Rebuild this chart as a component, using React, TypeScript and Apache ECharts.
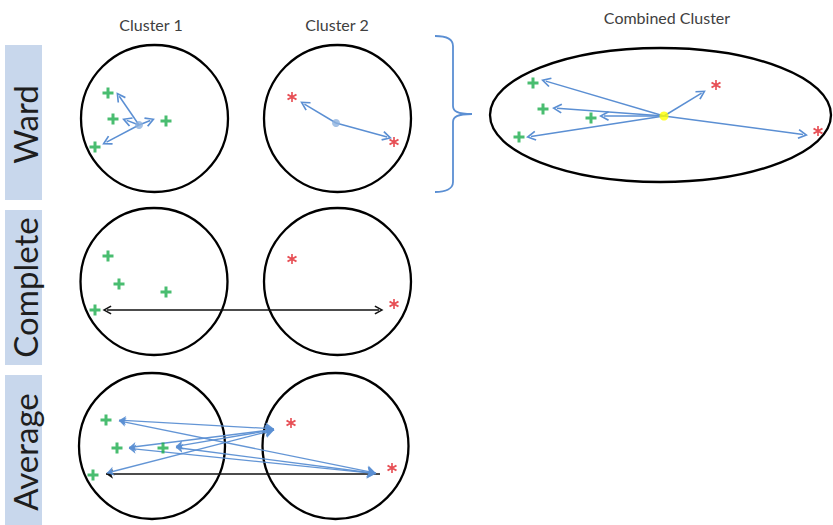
import React, { useEffect, useRef } from 'react';
import * as echarts from 'echarts';

// ---------- texts ----------
const columnTitles = ['Cluster 1', 'Cluster 2', 'Combined Cluster'];
const rowLabels = ['Ward', 'Complete', 'Average'];

// ---------- cluster outlines: [cx, cy, width, height] ----------
const clusterOutlines = [
  [154.5, 118.5, 147, 147],
  [337.5, 118.5, 147, 147],
  [154, 281.5, 147, 147],
  [337.5, 281.5, 147, 147],
  [152, 446, 146, 146],
  [335.5, 446, 146, 146],
  [660.5, 115, 341, 134],
];

// ---------- Ward ----------
const wardGreen = [[108, 93], [113, 119], [166, 121], [95, 147]];
const wardRed = [[292, 97], [394, 142]];
const wardCentroids = [[139, 125], [336, 123]];
const wardGreenTips = [[117, 93], [123, 119], [154, 119], [103, 144]];
const wardRedTips = [[301, 102], [391, 138]];

// ---------- Combined ----------
const combinedGreen = [[533, 83], [543, 109], [591, 118], [519, 137]];
const combinedRed = [[716, 85], [818, 131]];
const combinedCentroid = [664, 116];
const combinedTips = [[542, 80], [553, 108], [600, 116], [527, 137], [705, 91], [807, 135]];

// ---------- Complete ----------
const completeGreen = [[108, 256], [119, 284], [166, 292], [95, 310]];
const completeRed = [[292, 259], [394, 304]];
const completeLink = [[103, 310], [383, 310]];

// ---------- Average ----------
const averageGreen = [[106, 420], [117, 448], [163, 448], [93, 475]];
const averageRed = [[291, 423], [392, 468]];
const averageGreenEnds = [[115, 420], [125, 448], [172, 447], [103, 474]];
const averageRedEnds = [[278, 429], [380, 474]];

// ---------- colours ----------
const GREEN = '#1cac4c';
const RED = '#e1232b';
const BLUE = '#5b8fd3';
const BOX = '#c8d7ec';

const PLUS = 'path://M4,0H7V4H11V7H7V11H4V7H0V4H4Z';
const STAR =
  'path://M4.2,0H5.8V10H4.2Z M0.17,3.37L1.17,1.63L9.83,6.63L8.83,8.37Z M1.17,8.37L0.17,6.63L8.83,1.63L9.83,3.37Z';
const CHEV = 'path://M5,0L10,9L8.6,9.9L5,3.3L1.4,9.9L0,9Z';

const braceD =
  'M0,0 C10,0 18,2 18,10 L18,70 C18,75 22,78 37,78 C22,78 18,81 18,86 L18,146 C18,153 10,156 0,156';
echarts.graphic.registerShape('brace', echarts.graphic.extendPath(braceD, {}));

function pull(from: number[], to: number[], d: number) {
  const dx = to[0] - from[0];
  const dy = to[1] - from[1];
  const len = Math.sqrt(dx * dx + dy * dy) || 1;
  return [to[0] - (dx / len) * d, to[1] - (dy / len) * d];
}

function singleArrows(from: number[], tips: number[][], d: number) {
  return tips.map((t) => ({ coords: [from, pull(from, t, d)] }));
}

export default function App() {
  const ref = useRef<HTMLDivElement>(null);

  useEffect(() => {
    if (!ref.current) return;
    const chart = echarts.init(ref.current, null, { renderer: 'svg' });

    const wardLinks = [
      ...singleArrows(wardCentroids[0], wardGreenTips, 4),
      ...singleArrows(wardCentroids[1], wardRedTips, 4),
    ];
    const combinedLinks = singleArrows(combinedCentroid, combinedTips, 4);

    const avgLinks: any[] = [];
    averageGreenEnds.forEach((g, i) => {
      averageRedEnds.forEach((r, j) => {
        if (i === 3 && j === 1) return;
        avgLinks.push({ coords: [pull(r, g, 4), pull(g, r, 4)] });
      });
    });

    const labelBoxes = [
      [45, 155],
      [210, 155],
      [375, 150],
    ];

    const graphic: any[] = [];
    rowLabels.forEach((lab, i) => {
      const [y, h] = labelBoxes[i];
      graphic.push({
        type: 'rect',
        shape: { x: 5, y, width: 37, height: h },
        style: { fill: BOX },
        z: 1,
      });
      graphic.push({
        type: 'text',
        x: 25,
        y: y + h / 2 + (i === 0 ? 2 : i === 2 ? 2 : 0),
        rotation: Math.PI / 2,
        style: {
          text: lab,
          fontFamily: 'Lato',
          fontSize: 33,
          fill: '#1e1e1e',
          align: 'center',
          verticalAlign: 'middle',
        },
        z: 2,
      });
    });
    const titlePos = [
      [151, 24],
      [337, 24],
      [667, 17],
    ];
    columnTitles.forEach((t, i) => {
      graphic.push({
        type: 'text',
        x: titlePos[i][0],
        y: titlePos[i][1],
        style: {
          text: t,
          fontFamily: 'Lato',
          fontSize: 16,
          fill: '#404040',
          align: 'center',
          verticalAlign: 'middle',
        },
      });
    });
    graphic.push({
      type: 'brace',
      x: 435,
      y: 36,
      style: { fill: 'none', stroke: BLUE, lineWidth: 1.8 },
    });

    chart.setOption({
      animation: false,
      grid: { left: 0, right: 0, top: 0, bottom: 0 },
      xAxis: { type: 'value', min: 0, max: 833, show: false },
      yAxis: { type: 'value', min: 0, max: 525, inverse: true, show: false },
      graphic,
      series: [
        {
          type: 'custom',
          coordinateSystem: 'cartesian2d',
          silent: true,
          clip: false,
          z: 1,
          encode: { x: 0, y: 1 },
          renderItem: (_p: any, api: any) => {
            const c = api.coord([api.value(0), api.value(1)]);
            const s = api.size([api.value(2), api.value(3)]);
            return {
              type: 'ellipse',
              shape: { cx: c[0], cy: c[1], rx: Math.abs(s[0]) / 2, ry: Math.abs(s[1]) / 2 },
              style: { fill: 'none', stroke: '#000', lineWidth: 2.3 },
            };
          },
          data: clusterOutlines,
        },
        {
          type: 'lines',
          coordinateSystem: 'cartesian2d',
          silent: true,
          z: 3,
          symbol: ['none', CHEV],
          symbolSize: 10,
          lineStyle: { color: BLUE, width: 1.5, opacity: 1, curveness: 0 },
          data: [...wardLinks, ...combinedLinks],
        },
        {
          type: 'lines',
          coordinateSystem: 'cartesian2d',
          silent: true,
          z: 3,
          symbol: [CHEV, CHEV],
          symbolSize: 9,
          lineStyle: { color: '#111', width: 1.5, opacity: 1, curveness: 0 },
          data: [{ coords: [pull(completeLink[1], completeLink[0], 4), pull(completeLink[0], completeLink[1], 4)] }],
        },
        {
          type: 'lines',
          coordinateSystem: 'cartesian2d',
          silent: true,
          z: 3,
          symbol: ['arrow', 'none'],
          symbolSize: [7, 8],
          lineStyle: { color: '#111', width: 1.5, opacity: 1, curveness: 0 },
          data: [{ coords: [pull(averageRedEnds[1], averageGreenEnds[3], 3), averageRedEnds[1]] }],
        },
        {
          type: 'lines',
          coordinateSystem: 'cartesian2d',
          silent: true,
          z: 4,
          symbol: ['arrow', 'arrow'],
          symbolSize: [7, 9],
          lineStyle: { color: BLUE, width: 1.3, opacity: 0.95, curveness: 0 },
          data: avgLinks,
        },
        {
          type: 'scatter',
          silent: true,
          z: 5,
          symbol: 'circle',
          symbolSize: 8,
          itemStyle: { color: '#8db1df' },
          data: wardCentroids,
        },
        {
          type: 'scatter',
          silent: true,
          z: 5,
          symbol: 'circle',
          symbolSize: 9,
          itemStyle: { color: '#ffff00' },
          data: [combinedCentroid],
        },
        {
          type: 'scatter',
          silent: true,
          z: 6,
          symbol: PLUS,
          symbolSize: 11,
          itemStyle: { color: GREEN },
          data: [...wardGreen, ...completeGreen, ...averageGreen, ...combinedGreen],
        },
        {
          type: 'scatter',
          silent: true,
          z: 6,
          symbol: STAR,
          symbolSize: 10,
          itemStyle: { color: RED },
          data: [...wardRed, ...completeRed, ...averageRed, ...combinedRed],
        },
      ],
    });

    return () => chart.dispose();
  }, []);

  return (
    <div
      ref={ref}
      style={{ position: 'fixed', left: 0, top: 0, width: 833, height: 525, background: '#fff' }}
    />
  );
}
